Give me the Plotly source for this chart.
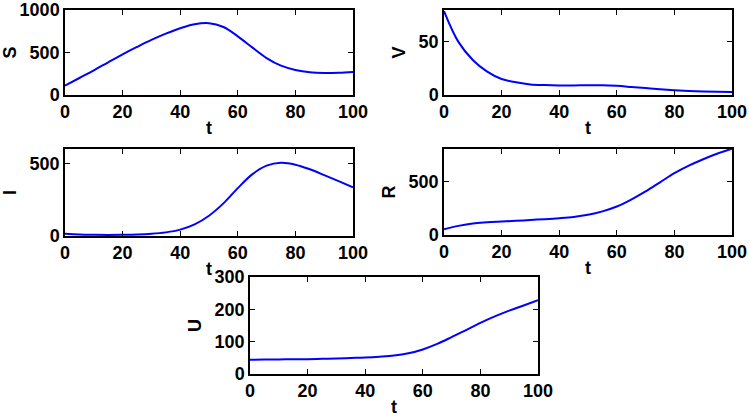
import plotly.graph_objects as go

t = [0, 5, 10, 15, 20, 25, 30, 35, 40, 45, 50, 55, 60, 65, 70, 75, 80, 85, 90, 95, 100]
S = [110, 200, 290, 385, 478, 565, 648, 722, 786, 833, 845, 800, 690, 560, 435, 345, 295, 268, 260, 263, 272]
V = [79, 50, 33, 22, 15, 12, 10, 9.3, 9, 9, 9.2, 9.2, 8.6, 7.6, 6.5, 5.4, 4.5, 3.8, 3.3, 3.0, 2.9]
I = [15, 10, 8, 7, 8, 10, 15, 25, 44, 80, 140, 225, 330, 425, 485, 505, 492, 460, 420, 378, 335]
R = [53, 85, 108, 118, 125, 132, 140, 147, 156, 168, 188, 220, 265, 330, 405, 490, 575, 645, 705, 758, 803]
U = [44, 44.5, 45, 45.5, 46, 47, 48, 49.5, 51, 53.5, 57, 64, 76, 93, 114, 136, 158, 178, 196, 212, 228]

x_ticks = [0, 20, 40, 60, 80, 100]
panels = [
    ("S", S, [0, 1000], [0, 500, 1000], (65, 353, 10, 95)),
    ("V", V, [0, 80], [0, 50], (444, 732, 10, 95)),
    ("I", I, [0, 600], [0, 500], (65, 353, 149, 236)),
    ("R", R, [0, 800], [0, 500], (444, 732, 149, 235)),
    ("U", U, [0, 300], [0, 100, 200, 300], (250, 538, 277, 374)),
]

W, H = 749, 417
fig = go.Figure()
font = dict(family="Liberation Sans, Arial, sans-serif", size=18, color="black", weight="bold")
for i, (name, vals, yr, yt, (x0, x1, y0, y1)) in enumerate(panels):
    n = "" if i == 0 else str(i + 1)
    fig.add_trace(go.Scatter(x=t, y=vals, mode="lines",
                             line=dict(color="#0000ff", width=2, shape="spline", smoothing=1.0),
                             xaxis="x" + n, yaxis="y" + n, showlegend=False, hoverinfo="skip"))
    common = dict(ticks="inside", ticklen=5, tickwidth=1.2, tickcolor="black",
                  mirror="ticks", showline=True, linecolor="black", linewidth=1.5,
                  showgrid=False, zeroline=False, tickfont=font, automargin=False,
                  ticklabeloverflow="allow")
    ax = dict(domain=[x0 / W, x1 / W], range=[0, 100], tickvals=x_ticks,
              title=dict(text="t", font=font, standoff=0), anchor="y" + n, **common)
    ay = dict(domain=[1 - y1 / H, 1 - y0 / H], range=yr, tickvals=yt,
              title=dict(text=name, font=font, standoff=8), anchor="x" + n, **common)
    fig.update_layout(**{"xaxis" + n: ax, "yaxis" + n: ay})

fig.update_layout(width=W, height=H, margin=dict(l=0, r=0, t=0, b=0), paper_bgcolor="white",
                  plot_bgcolor="white", font=font, hovermode=False)
fig.write_html("out.html", config={"displayModeBar": False},
               post_script="document.body.style.margin='0';document.body.style.overflow='hidden';")
